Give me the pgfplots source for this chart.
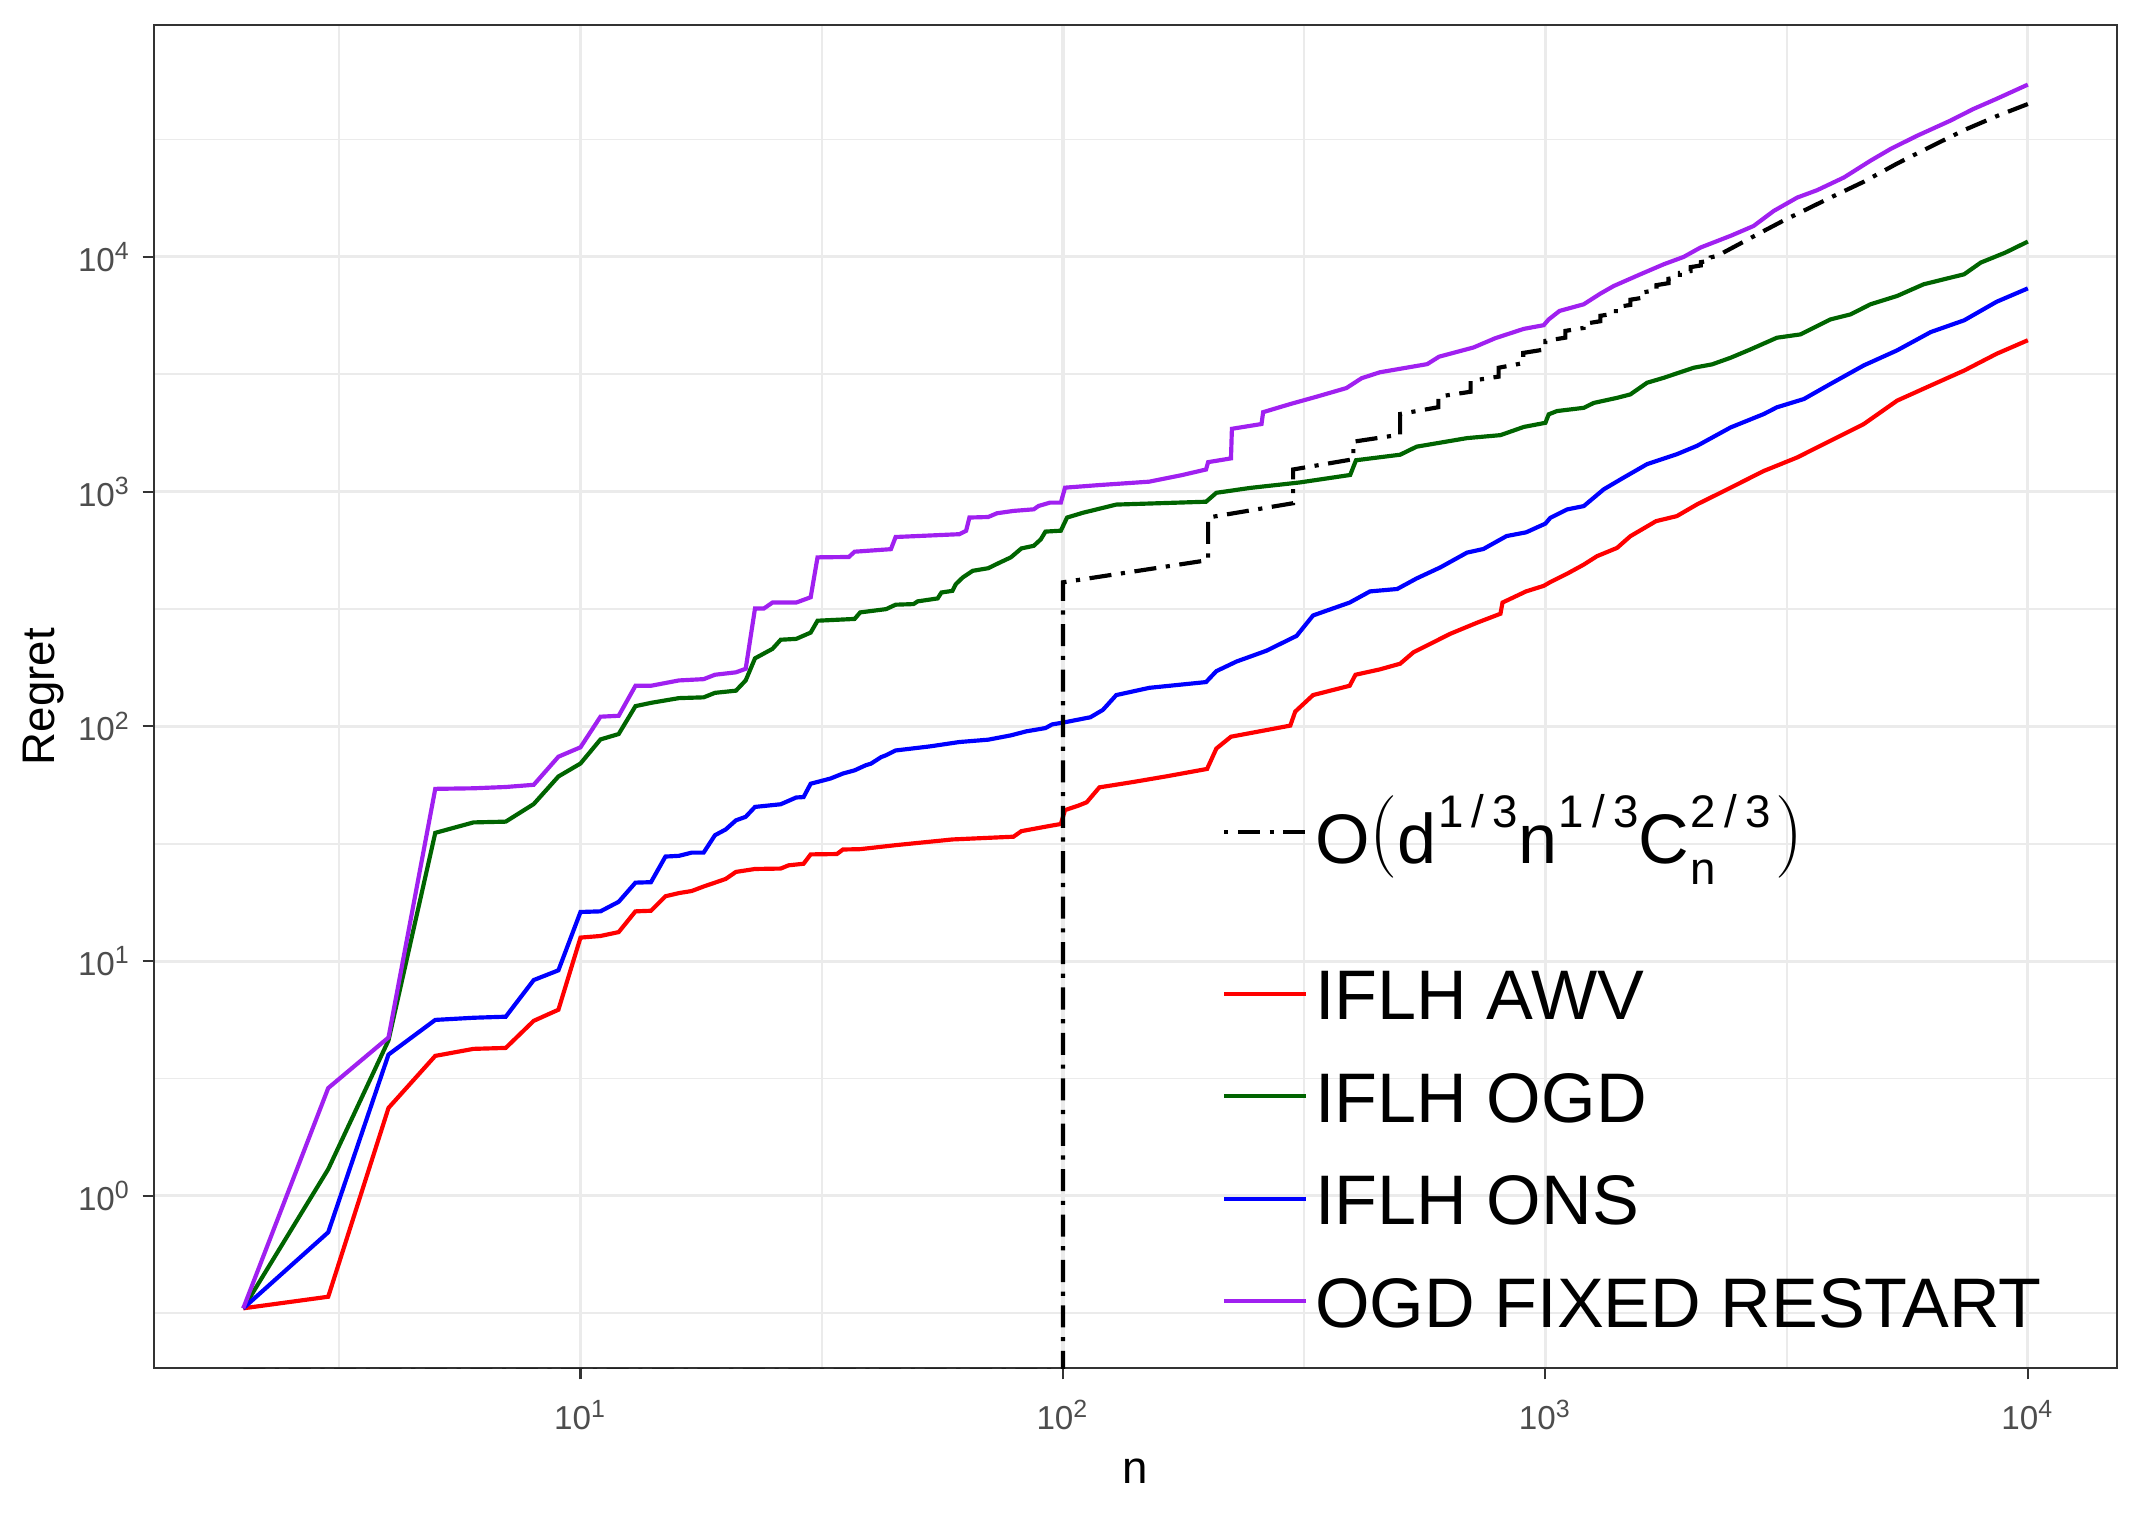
\documentclass[border=0pt]{standalone}
\usepackage{pgfplots}
\pgfplotsset{compat=1.18}
\usepackage{pgfplotstable}
\usepackage{graphicx}
\usepackage{fontspec}
\setmainfont{Liberation Sans}
\definecolor{grid92}{HTML}{EBEBEB}
\definecolor{grey30}{HTML}{4D4D4D}
\definecolor{grey20}{HTML}{333333}
\definecolor{rred}{HTML}{FF0000}
\definecolor{rgreen}{HTML}{006400}
\definecolor{rblue}{HTML}{0000FF}
\definecolor{rpurple}{HTML}{A020F0}
\newcommand\sups{\fontsize{11}{13}\selectfont}
\newcommand\frc[2]{{\sups #1\kern2bp/\kern2bp#2}}
\newcommand\bigparen[1]{\raisebox{1.4bp}{\scalebox{1.1}[1.15]{$\nulldelimiterspace=0pt\left#1\vphantom{\rule[-4.3bp]{0pt}{14.4bp}}\right.$}}}
\newcommand\formula{O\bigparen(d\kern0.3bp\raisebox{8.6bp}{\frc13}n\kern0.3bp\raisebox{8.6bp}{\frc13}C\kern0.3bp\rlap{\raisebox{-5.1bp}{\sups n}}\raisebox{8.6bp}{\frc23}\kern1.2bp\bigparen)}

\pgfplotstableread{
n v
2 0.332
3 0.372
4 2.37
5 3.95
6 4.23
7 4.27
8 5.57
9 6.21
10 12.6
11 12.8
12 13.3
13 16.3
14 16.4
15 18.9
16 19.5
17 19.9
18 20.8
19 21.6
20 22.4
21 24.0
23 24.7
26 24.8
27 25.6
29 26.0
30 28.5
34 28.6
35 29.9
38 30.0
45 31.2
59 33.0
79 33.9
82 35.8
94 37.7
99 38.4
101 44.0
108 46.1
112 47.5
119 55.0
140 58.0
164 61.3
199 65.9
208 80.5
223 90.4
296 100.8
303 115.6
330 136
393 149
404 166
454 175
500 185
533 207
635 248
720 276
807 302
815 337
912 376
992 397
1024 412
1109 447
1201 489
1279 531
1408 576
1500 646
1696 749
1873 787
2063 883
2421 1040
2836 1225
3327 1399
3900 1648
4570 1941
5360 2443
6290 2833
7380 3281
8620 3869
10000 4416
}\tawv

\pgfplotstableread{
n v
2 0.332
3 1.30
4 4.6
5 35.2
6 39.0
7 39.3
8 46.7
9 61.2
10 69.5
11 88.0
12 92.8
13 122
14 126
16 132
18 133
19 139
21 142
22 157
23 195
25 214
26 234
28 236
30 251
31 282
37 287
38 306
43 316
45 330
49 332
50 341
55 351
56 372
59 378
60 404
62 431
65 460
70 472
74 499
78 525
82 573
87 588
90 627
92 676
99 682
102 776
110 813
129 881
198 906
208 989
244 1037
310 1095
394 1178
405 1361
500 1437
541 1555
688 1691
807 1741
902 1887
1000 1965
1016 2135
1057 2205
1201 2276
1260 2388
1408 2510
1500 2596
1625 2911
1760 3056
2029 3372
2216 3486
2421 3720
2661 4036
3020 4527
3379 4677
3900 5418
4289 5690
4720 6285
5360 6820
6080 7645
7380 8435
7990 9460
8980 10430
10000 11620
}\togd

\pgfplotstableread{
n v
2 0.332
3 0.70
4 4.0
5 5.62
6 5.74
7 5.80
8 8.31
9 9.14
10 16.2
11 16.3
12 17.9
13 21.6
14 21.7
15 27.9
16 28.1
17 29.0
18 29.0
19 34.4
20 36.4
21 39.8
22 41.2
23 45.4
26 46.6
28 49.8
29 50.0
30 57
33 60
35 63
37 65
39 68.3
40 69.4
42 74
43 75.4
45 79
53 82.2
61 85.8
70 87.8
78 91.6
84 95.3
92 98.4
95 102
100 103.8
114 109.4
121 117.6
129 136
151 146
198 154.5
208 172
229 189
264 210
305 243
330 297
393 337
433 376
493 385
541 427
606 476
688 550
744 570
831 647
912 671
1000 731
1024 774
1109 840
1201 868
1321 1023
1453 1148
1625 1310
1873 1444
2063 1568
2421 1878
2837 2142
3020 2288
3434 2481
3900 2878
4570 3450
5360 4000
6290 4784
7380 5370
8620 6444
10000 7345
}\tons

\pgfplotstableread{
n v
2 0.332
3 2.88
4 4.73
5 54.2
6 54.5
7 55.2
8 56.4
9 74.3
10 81.5
11 110
12 111
13 149
14 149
16 157
18 159
19 166
21 170
22 176
23 318
24 318
25 337
28 337
30 355
31 525
36 527
37 555
44 569
45 641
61 659
63 681
64 776
70 780
73 809
79 828
87 841
89 869
94 898
99 898
101 1040
119 1067
151 1103
177 1178
198 1243
200 1336
223 1386
224 1853
258 1942
260 2181
296 2362
336 2540
387 2763
416 3043
454 3226
569 3494
602 3758
710 4115
788 4508
902 4937
992 5119
1016 5418
1070 5888
1201 6285
1300 6977
1386 7520
1574 8435
1760 9306
1935 10000
2096 10960
2421 12300
2702 13550
2974 15700
3327 17900
3659 19250
4158 21800
4720 25700
5190 28800
5891 32800
6898 38000
7707 42650
8606 47100
10000 54200
}\tfixed

\pgfplotstableread{
n v
2 0.18
100 0.18
100 411
200 511
200 776
300 893
300 1243
400 1375
400 1633
500 1750
500 2142
600 2290
600 2540
700 2665
700 2965
800 3090
800 3372
900 3530
900 3900
1000 4039
1000 4388
1100 4530
1100 4840
1200 4982
1200 5182
1300 5322
1300 5613
1400 5753
1400 6103
1500 6245
1500 6570
1600 6713
1600 7074
1700 7218
1700 7585
1800 7731
1800 8069
1900 8216
1900 8556
2000 8703
2000 9048
2100 9196
2100 9500
2200 9645
2200 9952
2270 10100
2836 12900
3120 14300
3900 17900
4570 20900
5360 25000
6290 29500
7380 34700
8620 39800
10000 44800
}\tbound

\pgfplotsset{
  legend image code/.code={\draw[#1] (0bp,0bp) -- (19.7bp,0bp);},
}

\begin{document}
\begin{tikzpicture}
\begin{axis}[
  name=ax,
  scale only axis, width=471.12bp, height=322.32bp,
  xmode=log, ymode=log, log basis x=10, log basis y=10,
  xmin=1.3061, xmax=15307, ymin=0.1849, ymax=97270,
  xtick={10,100,1000,10000},
  xticklabels={10\textsuperscript{1},10\textsuperscript{2},10\textsuperscript{3},10\textsuperscript{4}},
  ytick={1,10,100,1000,10000},
  yticklabels={10\textsuperscript{0},10\textsuperscript{1},10\textsuperscript{2},10\textsuperscript{3},10\textsuperscript{4}},
  minor xtick={3.1623,31.623,316.23,3162.3},
  minor ytick={0.31623,3.1623,31.623,316.23,3162.3,31623},
  grid=both,
  major grid style={line width=0.75bp, draw=grid92},
  minor grid style={line width=0.45bp, draw=grid92},
  axis line style={line width=0.5bp, draw=grey20},
  tick align=outside, xtick pos=left, ytick pos=left,
  major tick length=2.75bp, minor tick length=0pt,
  tick style={line width=0.5bp, draw=grey20},
  ticklabel style={font=\fontsize{8}{9.6}\selectfont, text=grey30},
  xticklabel style={anchor=north, inner sep=0pt, yshift=-4.8bp},
  yticklabel style={anchor=east, inner sep=0pt, xshift=-2.6bp},
  xlabel={n}, ylabel={Regret},
  label style={font=\fontsize{11}{13.2}\selectfont, inner sep=0pt},
  xlabel style={at={(axis description cs:0.5,-0.08625)}, anchor=base},
  ylabel style={at={(axis description cs:-0.05052,0.5)}, anchor=base},
  legend style={at={(0.5441,0.1641)}, anchor=west, draw=none, fill=none,
    inner sep=0pt, outer sep=0pt, row sep=12.2bp, column sep=1.7bp,
    nodes={inner sep=0pt, text height=12.4bp, text depth=0pt,
      font=\fontsize{16.9}{20}\selectfont}},
  legend cell align=left,
]
\addplot[rred, line width=1bp] table[x=n,y=v] {\tawv};
\addlegendentry{IFLH AWV}
\addplot[rgreen, line width=1bp] table[x=n,y=v] {\togd};
\addlegendentry{IFLH OGD}
\addplot[rblue, line width=1bp] table[x=n,y=v] {\tons};
\addlegendentry{IFLH ONS}
\addplot[rpurple, line width=1bp] table[x=n,y=v] {\tfixed};
\addlegendentry{OGD FIXED RESTART}
\addplot[black, line width=1bp, dash pattern=on 5.3bp off 2.3bp on 1bp off 2.3bp, forget plot] table[x=n,y=v] {\tbound};
\end{axis}
\begin{axis}[
  scale only axis, width=471.12bp, height=322.32bp,
  hide axis, xmin=1, xmax=2, ymin=1, ymax=2,
  legend style={at={(0.5441,0.3993)}, anchor=west, draw=none, fill=none,
    inner sep=0pt, outer sep=0pt, column sep=1.7bp,
    nodes={inner sep=0pt, font=\fontsize{16.9}{20}\selectfont}},
  legend cell align=left,
]
\addplot[draw=none, forget plot] coordinates {(1.5,1.5)};
\addlegendimage{black, line width=1bp, dash pattern=on 1bp off 2.3bp on 5.3bp off 2.3bp}
\addlegendentry{\formula}
\end{axis}
\pgfresetboundingbox
\path[use as bounding box] ([shift={(-36.96bp,-36bp)}]ax.south west) rectangle ([shift={(5.52bp,6bp)}]ax.north east);
\end{tikzpicture}
\end{document}
